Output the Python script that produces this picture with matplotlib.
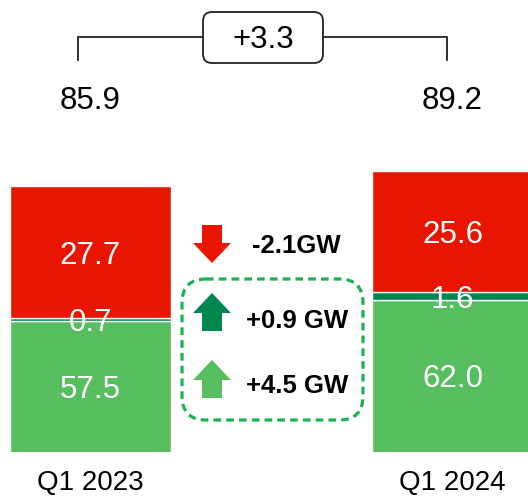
import matplotlib
matplotlib.use("Agg")
import matplotlib.pyplot as plt
from matplotlib.patches import FancyBboxPatch

plt.rcParams['font.family'] = ['Liberation Sans', 'DejaVu Sans']

# ---- data ----
categories = ["Q1 2023", "Q1 2024"]
green_vals = [57.5, 62.0]
dark_vals = [0.7, 1.6]
red_vals = [27.7, 25.6]
totals = [85.9, 89.2]
delta_label = "+3.3"
change_labels = ["-2.1GW", "+0.9 GW", "+4.5 GW"]

RED = "#E81600"
GREEN = "#57BE5F"
DARK = "#00874F"
DASH = "#1AB250"

W, H = 528, 500
fig = plt.figure(figsize=(W / 100, H / 100), dpi=100)

# main axes: bottom of bars at 452 px, broken axis starting at 30
px_per_unit = 4.75
ax = fig.add_axes([0, 48 / H, 1, 452 / H])
ax.set_ylim(30, 30 + 452 / px_per_unit)
ax.set_xlim(-0.25, 1.2086)
ax.axis('off')

x = [0, 1]
bw = 0.445
bottoms_dark = green_vals
bottoms_red = [g + d for g, d in zip(green_vals, dark_vals)]
ax.bar(x, green_vals, width=bw, color=GREEN, edgecolor='white', linewidth=1.0)
ax.bar(x, dark_vals, width=bw, bottom=bottoms_dark, color=DARK, edgecolor='white', linewidth=1.0)
ax.bar(x, red_vals, width=bw, bottom=bottoms_red, color=RED, edgecolor='white', linewidth=1.0)

def seg_label(xx, yy, s):
    ax.annotate(s, (xx, yy), xytext=(0, -2.5), textcoords='offset points',
                color='white', fontsize=22.5, ha='center', va='center')

for i in range(2):
    seg_label(x[i], (30 + green_vals[i]) / 2, f"{green_vals[i]:.1f}")
    seg_label(x[i], green_vals[i] + dark_vals[i] / 2, f"{dark_vals[i]:.1f}")
    seg_label(x[i], bottoms_red[i] + red_vals[i] / 2, f"{red_vals[i]:.1f}")
    ax.text(x[i], 0.7765, f"{totals[i]:.1f}", transform=ax.get_xaxis_transform(),
            fontsize=22.5, ha='center', va='center', color='black')
    ax.text(x[i], -0.069, categories[i], transform=ax.get_xaxis_transform(),
            fontsize=20, ha='center', va='center', color='black')

# overlay axes in pixel-like coordinates for decorations
ov = fig.add_axes([0, 0, 1, 1])
ov.set_xlim(0, W)
ov.set_ylim(H, 0)
ov.axis('off')

# bracket
lc = "#222222"
ov.plot([78, 78, 447, 447], [60, 37, 37, 60], color=lc, lw=1.3, solid_joinstyle='miter')
box = FancyBboxPatch((203, 12), 120, 51, boxstyle="round,pad=0,rounding_size=9",
                     facecolor='white', edgecolor=lc, lw=1.3, zorder=3)
ov.add_patch(box)
ov.text(263, 40, delta_label, fontsize=22.5, ha='center', va='center', zorder=4)

# dashed box
dbox = FancyBboxPatch((182, 279), 181, 141, boxstyle="round,pad=0,rounding_size=24",
                      facecolor='none', edgecolor=DASH, lw=2.3, linestyle=(0, (2.4, 1.6)))
ov.add_patch(dbox)

# arrows
arrow_specs = [(225, 38, RED), (331, -38, DARK), (398, -38, GREEN)]
text_y = [246, 321, 386]
text_x = [252, 246, 246]
for (y0, dy, c), ty, tx, lab in zip(arrow_specs, text_y, text_x, change_labels):
    ov.arrow(212, y0, 0, dy, width=20, head_width=38, head_length=20,
             length_includes_head=True, color=c, lw=0)
    ov.text(tx, ty, lab, fontsize=18.5, fontweight='bold', ha='left', va='center')

fig.savefig("out.png", dpi=100)
